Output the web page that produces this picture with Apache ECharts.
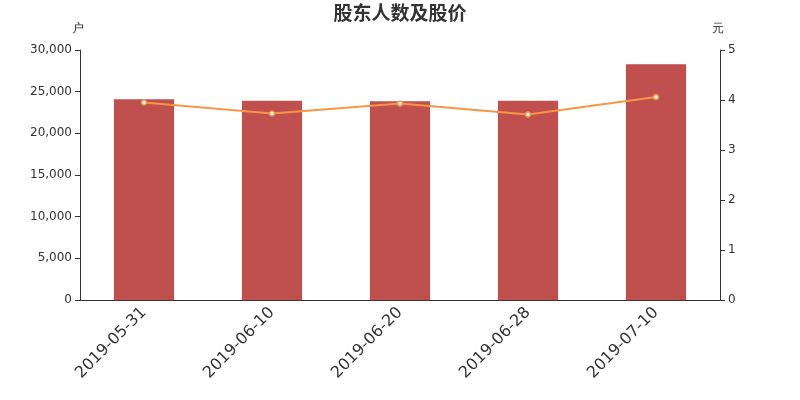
<!DOCTYPE html>
<html><head><meta charset="utf-8">
<script src="https://cdn.jsdelivr.net/npm/echarts@6/dist/echarts.min.js"></script>
<style>html,body{margin:0;padding:0;background:#fff}#c{width:800px;height:400px}</style>
</head><body><div id="c"></div>
<script>
var categories = ['2019-05-31','2019-06-10','2019-06-20','2019-06-28','2019-07-10'];
var holders = [24080, 23920, 23840, 23920, 28300];
var prices = [3.95, 3.73, 3.93, 3.71, 4.06];
var chart = echarts.init(document.getElementById('c'));
var axisCommon = {
  axisLine:{show:true,lineStyle:{color:'#333'}},
  axisTick:{show:true,lineStyle:{color:'#333'}},
  axisLabel:{color:'#333',fontSize:12,fontFamily:'DejaVu Sans'},
  splitLine:{show:false}
};
chart.setOption({
  animation:false,
  title:{text:'股东人数及股价',left:'center',top:-2,textStyle:{fontSize:19,fontWeight:'bold',color:'#333',fontFamily:'Noto Sans CJK SC'}},
  grid:{left:80,right:80,top:50,bottom:100},
  xAxis:{type:'category',data:categories,
    axisLine:{lineStyle:{color:'#333'}},axisTick:{lineStyle:{color:'#333'}},
    axisLabel:{rotate:45,fontSize:16,color:'#333',fontFamily:'DejaVu Sans',interval:0,margin:10}},
  yAxis:[
    Object.assign({},axisCommon,{type:'value',name:'户',min:0,max:30000,interval:5000,nameGap:15,
      nameTextStyle:{color:'#333',fontSize:12,align:'center',padding:[0,4,0,0]},
      axisLabel:{color:'#333',fontSize:12,fontFamily:'DejaVu Sans',formatter:function(v){return v.toLocaleString('en-US');}}}),
    Object.assign({},axisCommon,{type:'value',name:'元',min:0,max:5,interval:1,nameGap:15,position:'right',
      nameTextStyle:{color:'#333',fontSize:12,align:'center',padding:[0,4,0,0]}})
  ],
  series:[
    {type:'bar',data:holders,barWidth:'47%',itemStyle:{color:'#c0504d'},yAxisIndex:0},
    {type:'line',data:prices,yAxisIndex:1,symbol:'circle',symbolSize:5,
      lineStyle:{color:'#f79646',width:2},itemStyle:{color:'#fff',borderColor:'#f79646',borderWidth:1.5}}
  ]
});
</script></body></html>
